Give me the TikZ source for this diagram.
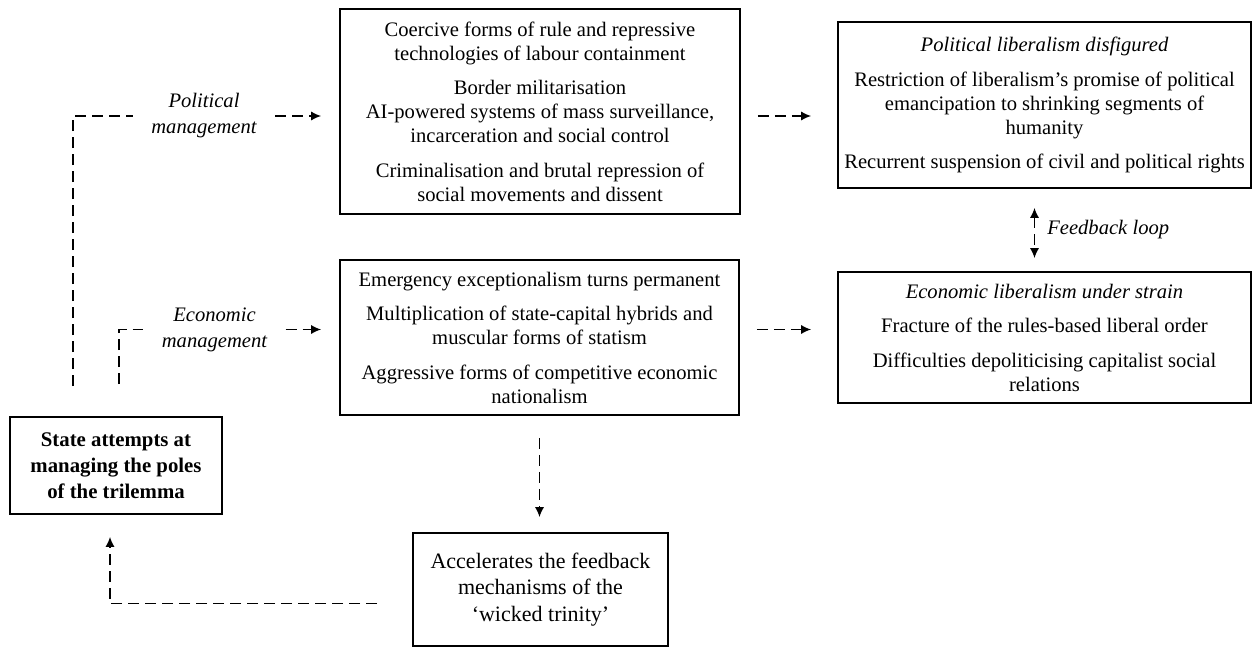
\documentclass[tikz,border=0pt]{standalone}
\usepackage{fontspec}
\setmainfont{Liberation Serif}
\usetikzlibrary{arrows.meta}

\begin{document}
\begin{tikzpicture}[x=0.5pt, y=-0.5pt,
  box/.style={draw, line width=0.9pt, align=center, inner sep=0pt, font=\fontsize{10.3}{12}\selectfont},
  link/.style={line width=0.8pt, dash pattern=on 5.5pt off 3pt},
  arr/.style={link, -{Latex[length=5pt, width=4.6pt]}},
  lbl/.style={align=center, inner xsep=9pt, font=\fontsize{10.3}{13}\selectfont\itshape}]

\useasboundingbox (0,0) rectangle (1254,648);

% boxes
\node[box, minimum width=200pt, minimum height=102.5pt] (coerce) at (540,111.5)
  {Coercive forms of rule and repressive\\technologies of labour containment\\[5.25pt]
   Border militarisation\\AI-powered systems of mass surveillance,\\incarceration and social control\\[5.25pt]
   Criminalisation and brutal repression of\\social movements and dissent};
\node[box, minimum width=199.5pt, minimum height=77.5pt] (mixed) at (539.5,337.5)
  {Emergency exceptionalism turns permanent\\[5.25pt]
   Multiplication of state-capital hybrids and\\muscular forms of statism\\[5.25pt]
   Aggressive forms of competitive economic\\nationalism};
\node[box, minimum width=206.5pt, minimum height=83pt] (libpol) at (1044.5,105)
  {\textit{Political liberalism disfigured}\\[5.25pt]
   Restriction of liberalism’s promise of political\\emancipation to shrinking segments of\\humanity\\[5.25pt]
   Recurrent suspension of civil and political rights};
\node[box, minimum width=206.5pt, minimum height=65.5pt] (libeco) at (1044.5,337.5)
  {\textit{Economic liberalism under strain}\\[5.25pt]
   Fracture of the rules-based liberal order\\[5.25pt]
   Difficulties depoliticising capitalist social\\relations};
\node[box, minimum width=106pt, minimum height=48.5pt, font=\fontsize{10.4}{13}\selectfont\bfseries] (state) at (116,465.5)
  {State attempts at\\managing the poles\\of the trilemma};
\node[box, minimum width=127.5pt, minimum height=56.5pt, font=\fontsize{11}{13.25}\selectfont] (accel) at (540.5,589.5)
  {Accelerates the feedback\\mechanisms of the\\‘wicked trinity’};

% labels
\node[lbl] (polmgmt) at (204,116) {Political\\management};
\node[lbl] (ecomgmt) at (214.5,329.5) {Economic\\management};

\coordinate (polfoot) at (73,386);
\coordinate (ecofoot) at (119,384);

% political
\draw[link] (polfoot) |- (polmgmt.west);
\draw[arr, shorten >=9pt] (polmgmt.east) -- (coerce.west |- polmgmt.east);
\draw[arr, shorten <=8.5pt, shorten >=13pt] (coerce.east |- polmgmt.east) -- (libpol.west |- polmgmt.east);

% economic
\draw[link] (ecofoot) |- (ecomgmt.west);
\draw[arr, shorten >=9pt] (ecomgmt.east) -- (mixed.west |- ecomgmt.east);
\draw[arr, shorten <=8.5pt, shorten >=13pt] (mixed.east |- ecomgmt.east) -- (libeco.west |- ecomgmt.east);

% feedback
\draw[link, {Latex[length=5pt, width=4.6pt]}-{Latex[length=5pt, width=4.6pt]}, shorten <=9.5pt, shorten >=6.5pt]
  ([xshift=-5pt]libpol.south) -- node[midway, right, inner xsep=6pt, font=\fontsize{10.3}{12}\selectfont\itshape] (fbloop) {Feedback loop}
  ([xshift=-5pt]libeco.north);

% back to the state
\draw[arr, shorten <=11pt, shorten >=7.5pt] (mixed.south) -- (mixed.south |- accel.north);
\draw[arr, shorten <=17.5pt, shorten >=11pt] ([yshift=-7pt]accel.west) -| ([xshift=-3pt]state.south);

\end{tikzpicture}
\end{document}
